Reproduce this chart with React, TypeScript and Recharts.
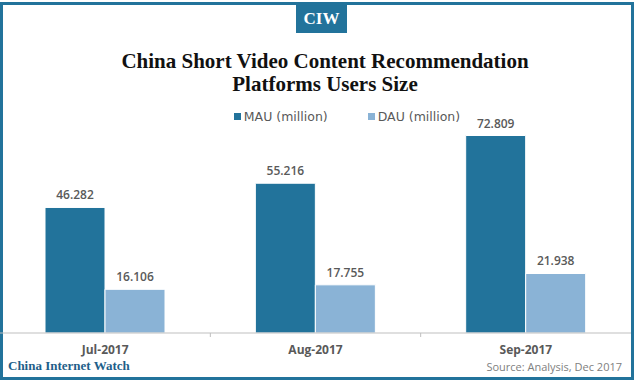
import React from "react";
import { Bar, BarChart, LabelList, XAxis, YAxis } from "recharts";

const months = ["Jul-2017", "Aug-2017", "Sep-2017"];
const mau = [46.282, 55.216, 72.809];
const dau = [16.106, 17.755, 21.938];

const data = months.map((m, i) => ({ month: m, mau: mau[i], dau: dau[i] }));

const BLUE = "#22739b";
const LIGHT = "#8ab3d6";
const GRAY = "#595959";
const SANS = "'Open Sans', 'DejaVu Sans', sans-serif";
const WIDE = "'DejaVu Sans', sans-serif";
const SERIF = "'Liberation Serif', 'DejaVu Serif', serif";

const CategoryTick = (props: any) => {
  const { x, y, payload } = props;
  const band = 631 / months.length;
  return (
    <g>
      {payload.index > 0 && (
        <line x1={x - band / 2} x2={x - band / 2} y1={y - 8} y2={y - 4} stroke="#bfbfbf" />
      )}
      <text
        x={x}
        y={y + 13}
        textAnchor="middle"
        fill={GRAY}
        fontSize={12}
        fontWeight={700}
        fontFamily={SANS}
      >
        {payload.value}
      </text>
    </g>
  );
};

const LegendItem = ({ color, label }: { color: string; label: string }) => (
  <span style={{ display: "inline-flex", alignItems: "center", margin: "0 20px" }}>
    <span style={{ width: 7, height: 7, background: color, marginRight: 3, display: "inline-block" }} />
    <span style={{ fontSize: 12.5, color: GRAY, fontFamily: WIDE }}>{label}</span>
  </span>
);

export default function App() {
  return (
    <div style={{ position: "relative", width: 634, height: 382, background: "#fff", overflow: "hidden" }}>
      <style>{`body{margin:0}`}</style>
      <div
        style={{
          position: "absolute",
          left: 0,
          top: 2,
          width: 634,
          height: 378,
          border: `3px solid ${BLUE}`,
          boxSizing: "border-box",
        }}
      />
      <div
        style={{
          position: "absolute",
          left: 296,
          top: 5,
          width: 51,
          height: 28,
          background: BLUE,
          color: "#fff",
          fontFamily: SERIF,
          fontWeight: 700,
          fontSize: 17,
          lineHeight: "28px",
          textAlign: "center",
        }}
      >
        CIW
      </div>
      <div
        style={{
          position: "absolute",
          left: 0,
          width: 650,
          top: 50,
          textAlign: "center",
          fontFamily: SERIF,
          fontWeight: 700,
          fontSize: 21,
          lineHeight: "23px",
          color: "#111",
        }}
      >
        China Short Video Content Recommendation
        <br />
        Platforms Users Size
      </div>
      <div
        style={{
          position: "absolute",
          left: 0,
          top: 109,
          width: 694,
          display: "flex",
          justifyContent: "center",
        }}
      >
        <LegendItem color={BLUE} label="MAU (million)" />
        <LegendItem color={LIGHT} label="DAU (million)" />
      </div>
      <div style={{ position: "absolute", left: 0, top: 0 }}>
        <BarChart
          width={634}
          height={382}
          data={data}
          margin={{ top: 116, right: 3, bottom: 19, left: 0 }}
          barGap={0}
          barCategoryGap="21.4%"
        >
          <XAxis
            dataKey="month"
            axisLine={{ stroke: "#bfbfbf" }}
            tickLine={false}
            tick={<CategoryTick />}
            interval={0}
          />
          <YAxis hide domain={[0, 80]} />
          <Bar dataKey="mau" fill={BLUE} stroke="#fff" strokeWidth={1} isAnimationActive={false}>
            <LabelList dataKey="mau" position="top" offset={8} fill={GRAY} fontSize={12} fontWeight={600} fontFamily={SANS} />
          </Bar>
          <Bar dataKey="dau" fill={LIGHT} stroke="#fff" strokeWidth={1} isAnimationActive={false}>
            <LabelList dataKey="dau" position="top" offset={8} fill={GRAY} fontSize={12} fontWeight={600} fontFamily={SANS} />
          </Bar>
        </BarChart>
      </div>
      <div
        style={{
          position: "absolute",
          left: 8,
          top: 358,
          fontFamily: SERIF,
          fontWeight: 700,
          fontSize: 13,
          color: "#1f5f8a",
        }}
      >
        China Internet Watch
      </div>
      <div
        style={{
          position: "absolute",
          right: 12,
          top: 359,
          fontFamily: SANS,
          fontSize: 11,
          color: "#808080",
        }}
      >
        Source: Analysis, Dec 2017
      </div>
    </div>
  );
}
